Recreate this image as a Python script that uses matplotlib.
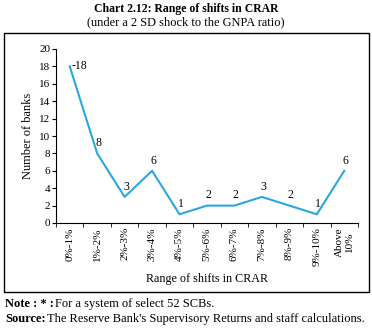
import matplotlib
matplotlib.use("Agg")
import matplotlib.pyplot as plt
from matplotlib.patches import Rectangle

categories = ["0%-1%", "1%-2%", "2%-3%", "3%-4%", "4%-5%", "5%-6%", "6%-7%",
              "7%-8%", "8%-9%", "9%-10%", "Above\n10%"]
banks = [18, 8, 3, 6, 1, 2, 2, 3, 2, 1, 6]
yticks = list(range(0, 21, 2))

plt.rcParams['font.family'] = ['Liberation Serif', 'DejaVu Serif']

fig = plt.figure(figsize=(3.72, 3.32), dpi=100)
ax = fig.add_axes([56/372, 1-223/332, (358-56)/372, (223-49)/332])

x = list(range(len(categories)))
color = '#2AA7DF'
ax.plot(x, banks, color=color, lw=1.5)
for i, v in enumerate(banks):
    if i == 0:
        ax.annotate("-" + str(v), (i, v), xytext=(1, 0), textcoords='offset points',
                    ha='left', va='center', fontsize=8.5)
    else:
        ax.annotate(str(v), (i, v), xytext=(1, 3), textcoords='offset points',
                    ha='center', va='bottom', fontsize=8.5)

ax.set_xlim(-0.5, len(categories) - 0.5)
ax.set_ylim(0, 20)
ax.set_yticks(yticks)
ax.tick_params(axis='y', labelsize=8, length=3, pad=1)
ax.set_xticks(x)
ax.set_xticklabels(categories, rotation=90, fontsize=8)
ax.tick_params(axis='x', which='major', length=0, pad=3)
ax.set_xticks([i - 0.5 for i in range(len(categories) + 1)], minor=True)
ax.tick_params(axis='x', which='minor', length=3, direction='out')
for s in ['top', 'right']:
    ax.spines[s].set_visible(False)
ax.set_ylabel("Number of banks", fontsize=8.9, labelpad=4)
ax.set_xlabel("Range of shifts in CRAR", fontsize=8.7, labelpad=5)

fig.patches.append(Rectangle((4/372, 1-292/332), 365/372, (292-33)/332,
                             transform=fig.transFigure, fill=False,
                             edgecolor='black', lw=1))

fig.text(0.5, 1-9/332, "Chart 2.12: Range of shifts in CRAR", ha='center', va='center',
         fontsize=8.5, fontweight='bold')
fig.text(0.5, 1-22/332, "(under a 2 SD shock to the GNPA ratio)", ha='center', va='center',
         fontsize=8.9)
fig.text(5/372, 1-304/332, "Note : * :", ha='left', va='center', fontsize=9, fontweight='bold')
fig.text(55/372, 1-304/332, "For a system of select 52 SCBs.",
         ha='left', va='center', fontsize=9)
fig.text(5/372, 1-319/332, "Source:", ha='left', va='center', fontsize=9, fontweight='bold')
fig.text(47/372, 1-319/332, "The Reserve Bank's Supervisory Returns and staff calculations.",
         ha='left', va='center', fontsize=9)

fig.savefig("out.png", dpi=100)
